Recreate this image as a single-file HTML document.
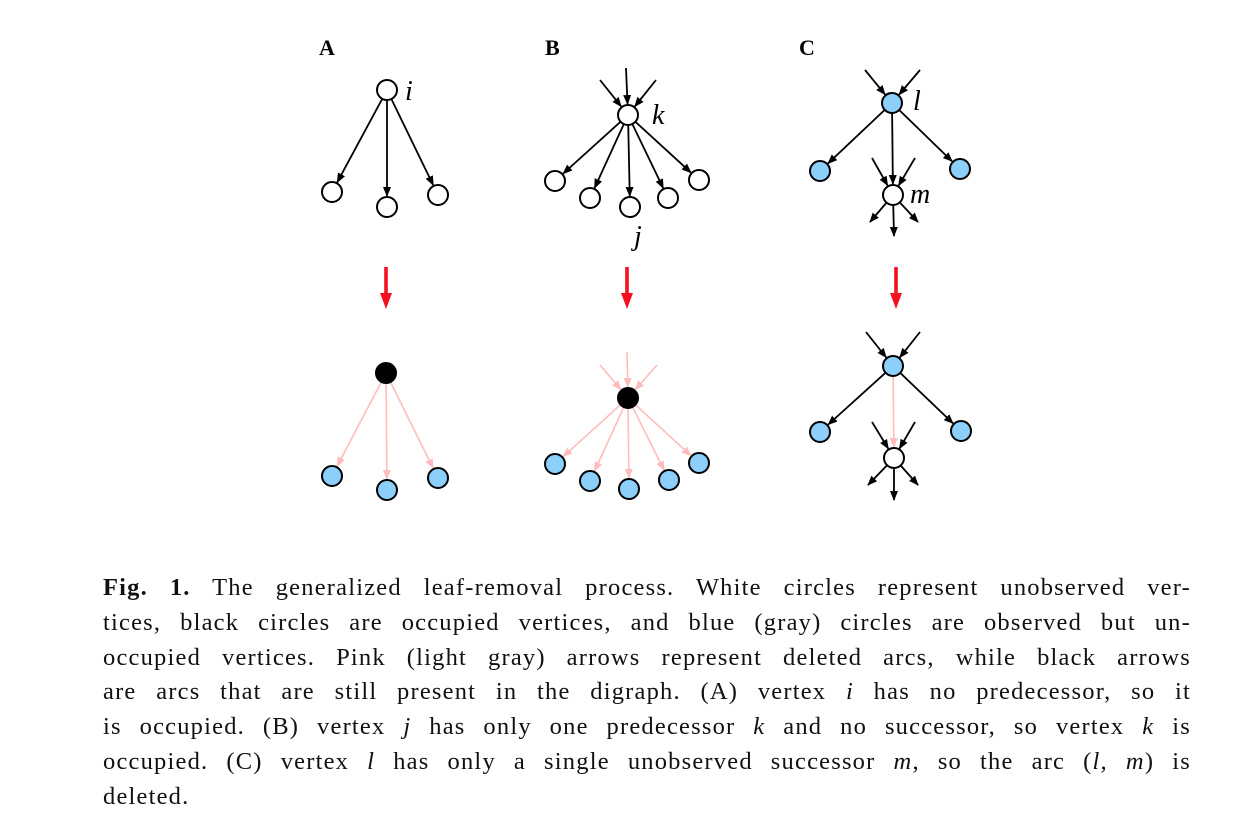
<!DOCTYPE html>
<html><head><meta charset="utf-8"><style>
html,body{margin:0;padding:0;background:#fff;}
body{width:1244px;height:838px;position:relative;overflow:hidden;}
svg{position:absolute;left:0;top:0;}
#cap{position:absolute;left:103px;top:571px;width:1088px;font-family:"Liberation Serif",serif;font-size:24.5px;letter-spacing:1.2px;line-height:34.8px;color:#111;}
#cap div{text-align:justify;text-align-last:justify;white-space:nowrap;}
#cap div.last{text-align-last:left;}
</style></head><body>
<svg id="fig" width="1244" height="560">
<defs>
<marker id="hb" viewBox="0 0 10 10" refX="9" refY="5" markerWidth="10" markerHeight="10" markerUnits="userSpaceOnUse" orient="auto"><path d="M0,1 L10,5 L0,9 z" fill="#000"/></marker>
<marker id="hp" viewBox="0 0 10 10" refX="9" refY="5" markerWidth="10" markerHeight="10" markerUnits="userSpaceOnUse" orient="auto"><path d="M0,1 L10,5 L0,9 z" fill="#ffbcbc"/></marker>
</defs>
<g font-family="Liberation Serif,serif" font-weight="bold" font-size="22">
<text x="319" y="55">A</text>
<text x="545" y="55">B</text>
<text x="799" y="55">C</text>
</g>
<g font-family="Liberation Serif,serif" font-style="italic" font-size="28">
<text x="405" y="100">i</text>
<text x="652" y="124">k</text>
<text x="634" y="245">j</text>
<text x="913" y="110">l</text>
<text x="910" y="203">m</text>
</g>
<g id="edges"></g><g id="nodes"></g><g id="red"></g>
</svg>
<div id="cap">
<div><b>Fig. 1.</b> The generalized leaf-removal process. White circles represent unobserved ver-</div>
<div>tices, black circles are occupied vertices, and blue (gray) circles are observed but un-</div>
<div>occupied vertices. Pink (light gray) arrows represent deleted arcs, while black arrows</div>
<div>are arcs that are still present in the digraph. (A) vertex <i>i</i> has no predecessor, so it</div>
<div>is occupied. (B) vertex <i>j</i> has only one predecessor <i>k</i> and no successor, so vertex <i>k</i> is</div>
<div>occupied. (C) vertex <i>l</i> has only a single unobserved successor <i>m</i>, so the arc (<i>l, m</i>) is</div>
<div class="last">deleted.</div>
</div>
<script>
const NS="http://www.w3.org/2000/svg";
const nodes=[
[387,90,"w"],[332,192,"w"],[387,207,"w"],[438,195,"w"],
[628,115,"w"],[555,181,"w"],[590,198,"w"],[630,207,"w"],[668,198,"w"],[699,180,"w"],
[892,103,"b"],[820,171,"b"],[960,169,"b"],[893,195,"w"],
[386,373,"k"],[332,476,"b"],[387,490,"b"],[438,478,"b"],
[628,398,"k"],[555,464,"b"],[590,481,"b"],[629,489,"b"],[669,480,"b"],[699,463,"b"],
[893,366,"b"],[820,432,"b"],[961,431,"b"],[894,458,"w"]
];
const edges=[
[387,90,332,192,"k",1],[387,90,387,207,"k",1],[387,90,438,195,"k",1],
[626,68,628,115,"k",1],[600,80,628,115,"k",1],[656,80,628,115,"k",1],
[628,115,555,181,"k",1],[628,115,590,198,"k",1],[628,115,630,207,"k",1],[628,115,668,198,"k",1],[628,115,699,180,"k",1],
[865,70,892,103,"k",1],[920,70,892,103,"k",1],
[892,103,820,171,"k",1],[892,103,960,169,"k",1],[892,103,893,195,"k",1],
[872,158,893,195,"k",1],[915,158,893,195,"k",1],
[893,195,870,222,"k",0],[893,195,894,236,"k",0],[893,195,918,222,"k",0],
[386,373,332,476,"p",1],[386,373,387,490,"p",1],[386,373,438,478,"p",1],
[627,352,628,398,"p",1],[600,365,628,398,"p",1],[657,365,628,398,"p",1],
[628,398,555,464,"p",1],[628,398,590,481,"p",1],[628,398,629,489,"p",1],[628,398,669,480,"p",1],[628,398,699,463,"p",1],
[866,332,893,366,"k",1],[920,332,893,366,"k",1],
[893,366,820,432,"k",1],[893,366,961,431,"k",1],[893,366,894,458,"p",1],
[872,422,894,458,"k",1],[915,422,894,458,"k",1],
[894,458,868,485,"k",0],[894,458,894,500,"k",0],[894,458,918,485,"k",0]
];
const redX=[386,627,896];
const R=10;
const eg=document.getElementById('edges');
edges.forEach(e=>{
 let [x1,y1,x2,y2,c,toNode]=e;
 const dx=x2-x1,dy=y2-y1,L=Math.hypot(dx,dy),ux=dx/L,uy=dy/L;
 const fromNode=nodes.some(n=>n[0]===x1&&n[1]===y1);
 if(fromNode){x1+=ux*R;y1+=uy*R;}
 if(toNode){x2-=ux*(R+1);y2-=uy*(R+1);}
 const l=document.createElementNS(NS,'line');
 l.setAttribute('x1',x1);l.setAttribute('y1',y1);l.setAttribute('x2',x2);l.setAttribute('y2',y2);
 l.setAttribute('stroke',c==="k"?"#000":"#ffbcbc");l.setAttribute('stroke-width',c==="k"?1.8:1.6);
 l.setAttribute('marker-end',c==="k"?"url(#hb)":"url(#hp)");
 
 
 eg.appendChild(l);
});
const ng=document.getElementById('nodes');
nodes.forEach(n=>{
 const c=document.createElementNS(NS,'ellipse');
 c.setAttribute('cx',n[0]);c.setAttribute('cy',n[1]);c.setAttribute('rx',R);c.setAttribute('ry',R);
 c.setAttribute('fill',n[2]==="w"?"#fff":n[2]==="b"?"#8ccffb":"#000");
 c.setAttribute('stroke','#000');c.setAttribute('stroke-width',2);
 
 
 ng.appendChild(c);
});
const rg=document.getElementById('red');
redX.forEach(x=>{
 const p=document.createElementNS(NS,'path');
 p.setAttribute('d',`M${x-1.8},267 L${x+1.8},267 L${x+1.8},293 L${x+6},293 L${x},309 L${x-6},293 L${x-1.8},293 Z`);
 p.setAttribute('fill','#f51020');
 
 
 rg.appendChild(p);
});
</script>
</body></html>
